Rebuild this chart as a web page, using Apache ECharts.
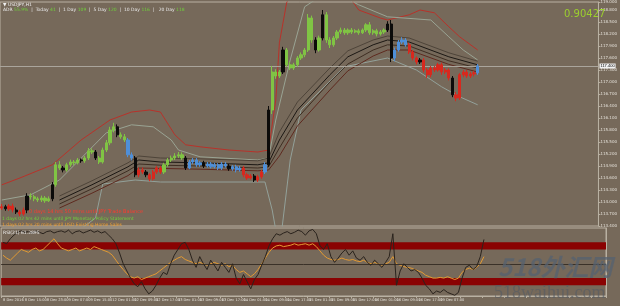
<!DOCTYPE html>
<html><head><meta charset="utf-8">
<script src="https://cdn.jsdelivr.net/npm/echarts@6/dist/echarts.min.js"></script>
<style>html,body{margin:0;padding:0;background:#76695a}#c{width:620px;height:306px}</style>
</head><body><div id="c"></div>
<script>
// ---- data (USDJPY H1) ----
const tickLabels = ["8 Dec 2016","8 Dec 15:00","8 Dec 23:00","9 Dec 07:00","9 Dec 15:00","12 Dec 01:00","12 Dec 09:00","12 Dec 17:00","13 Dec 01:00","13 Dec 09:00","13 Dec 17:00","14 Dec 01:00","14 Dec 09:00","14 Dec 17:00","15 Dec 01:00","15 Dec 09:00","15 Dec 17:00","16 Dec 01:00","16 Dec 09:00","16 Dec 17:00","19 Dec 07:00","19 Dec 15:00"];
const opens = [113.85,113.88,113.83,113.90,113.80,113.75,113.70,113.80,114.15,114.13,114.08,114.05,114.10,114.03,114.08,114.43,114.93,114.85,114.80,114.93,115.00,114.98,115.05,115.03,115.10,115.28,115.25,115.10,115.00,115.30,115.48,115.80,115.88,115.68,115.63,115.55,115.18,115.10,114.68,114.80,114.75,114.68,114.58,114.75,114.85,114.75,114.93,115.05,115.10,115.15,115.18,115.10,114.85,115.00,115.05,114.93,114.98,114.90,114.95,114.88,114.93,114.85,114.95,114.90,114.83,114.88,114.80,114.85,114.68,114.60,114.65,114.55,114.63,114.75,114.93,116.30,117.25,117.15,117.25,117.80,117.43,117.35,117.43,117.60,117.68,117.80,118.60,118.05,117.80,118.10,118.68,118.05,117.93,118.10,118.25,118.30,118.23,118.30,118.25,118.28,118.23,118.30,118.43,118.23,118.28,118.20,118.25,118.30,118.45,117.60,117.80,118.00,118.05,117.93,117.75,117.60,117.50,117.55,117.30,117.18,117.35,117.30,117.43,117.25,117.30,117.10,116.68,116.60,117.18,117.25,117.15,117.20,117.23];
const closes = [113.88,113.83,113.90,113.80,113.75,113.70,113.80,114.15,114.13,114.08,114.05,114.10,114.03,114.08,114.43,114.93,114.85,114.80,114.93,115.00,114.98,115.05,115.03,115.10,115.28,115.25,115.10,115.00,115.30,115.48,115.80,115.88,115.68,115.63,115.55,115.18,115.10,114.68,114.80,114.75,114.68,114.58,114.75,114.85,114.75,114.93,115.05,115.10,115.15,115.18,115.10,114.85,115.00,115.05,114.93,114.98,114.90,114.95,114.88,114.93,114.85,114.95,114.90,114.83,114.88,114.80,114.85,114.68,114.60,114.65,114.55,114.63,114.75,114.93,116.30,117.25,117.15,117.25,117.80,117.43,117.35,117.43,117.60,117.68,117.80,118.60,118.05,117.80,118.10,118.68,118.05,117.93,118.10,118.25,118.30,118.23,118.30,118.25,118.28,118.23,118.30,118.43,118.23,118.28,118.20,118.25,118.30,118.45,117.60,117.80,118.00,118.05,117.93,117.75,117.60,117.50,117.55,117.30,117.18,117.35,117.30,117.43,117.25,117.30,117.10,116.68,116.60,117.18,117.25,117.15,117.20,117.23,117.40];
const highs = [113.95,113.93,113.95,113.96,113.86,113.80,113.86,114.22,114.22,114.18,114.13,114.16,114.15,114.14,114.50,115.00,115.02,114.90,114.98,115.06,115.05,115.10,115.09,115.15,115.35,115.34,115.30,115.15,115.36,115.55,115.88,115.98,115.94,115.74,115.70,115.60,115.24,115.15,114.86,114.86,114.80,114.72,114.80,114.90,114.90,114.98,115.10,115.16,115.22,115.25,115.24,115.15,115.05,115.10,115.10,115.02,115.03,115.00,115.00,114.98,114.97,115.00,115.00,114.95,114.92,114.93,114.90,114.90,114.73,114.70,114.70,114.68,114.80,115.00,116.40,117.40,117.32,117.30,117.88,117.85,117.50,117.48,117.65,117.74,117.85,118.70,118.66,118.12,118.16,118.80,118.75,118.12,118.15,118.30,118.36,118.35,118.34,118.35,118.32,118.33,118.34,118.47,118.50,118.32,118.33,118.30,118.34,118.52,118.55,117.86,118.05,118.12,118.10,117.98,117.80,117.64,117.60,117.60,117.35,117.40,117.40,117.48,117.48,117.35,117.34,117.15,116.75,117.22,117.30,117.30,117.25,117.28,117.45];
const lows = [113.80,113.78,113.78,113.74,113.70,113.64,113.66,113.72,114.06,114.02,114.00,114.00,113.98,114.00,114.02,114.38,114.80,114.74,114.76,114.88,114.92,114.94,114.98,114.98,115.05,115.20,115.05,114.95,114.96,115.25,115.42,115.74,115.62,115.58,115.50,115.12,115.04,114.62,114.62,114.70,114.62,114.52,114.54,114.70,114.70,114.70,114.88,115.00,115.05,115.10,115.05,114.80,114.82,114.95,114.88,114.88,114.85,114.86,114.84,114.84,114.80,114.80,114.86,114.78,114.78,114.74,114.76,114.62,114.55,114.56,114.50,114.50,114.58,114.70,114.88,116.20,117.08,117.10,117.20,117.38,117.30,117.30,117.38,117.55,117.62,117.75,117.98,117.72,117.76,118.04,117.98,117.85,117.88,118.05,118.20,118.18,118.18,118.20,118.22,118.18,118.20,118.25,118.18,118.18,118.14,118.16,118.20,118.25,117.50,117.52,117.76,117.95,117.88,117.70,117.54,117.44,117.45,117.24,117.10,117.12,117.25,117.26,117.18,117.20,117.04,116.62,116.52,116.55,117.12,117.10,117.10,117.14,117.18];
const barStates = "rkrrkrrkggggggkggkggggkgggkgggggkggbbkrrkrrrrggggggkbbbbkbbbbbbkbbbrrrkrrbkgggkggggggggkgkgggggggggggggggggkkbbbbrrrkrrrrrrrrkrrrrrrb";
// bands and moving averages: [bar index, price]
const redUpper = [[0,114.43],[5,114.60],[14,114.93],[22,115.55],[30,116.05],[36,116.25],[41,116.30],[44,116.25],[48,115.68],[51,115.43],[55,115.38],[63,115.30],[71,115.25],[74,115.30],[76,116.55],[77,117.98],[79,118.98],[82,119.55],[96,119.18],[99,118.80],[105,118.60],[107,118.55],[113,118.68],[116,118.80],[120,118.73],[124,118.38],[127,118.13],[132,117.80]];
const grayUpper = [[0,114.05],[8,114.18],[16,114.55],[29,115.73],[36,115.93],[42,115.88],[47,115.55],[49,115.30],[55,115.13],[71,115.05],[74,115.10],[76,116.05],[80,117.55],[84,118.88],[91,119.30],[99,118.93],[107,118.63],[119,118.55],[124,118.13],[128,117.80],[132,117.55]];
const grayLower = [[0,113.00],[20,113.20],[26,113.60],[28,114.45],[37,114.55],[44,114.50],[73,114.50],[75,113.80],[77,112.80],[80,115.05],[83,116.30],[95,117.38],[107,117.60],[115,117.30],[122,116.88],[127,116.63],[132,116.43]];
const maA = [[16,114.15],[25,114.53],[35,114.98],[38,115.15],[44,115.10],[55,115.08],[71,115.03],[74,115.10],[77,115.75],[82,116.50],[91,117.35],[96,117.78],[103,118.05],[107,118.15],[113,118.10],[124,117.73],[132,117.52]];
const maB = [[16,114.05],[25,114.43],[35,114.88],[38,115.05],[44,115.00],[55,114.98],[71,114.93],[74,114.98],[77,115.55],[82,116.30],[91,117.18],[96,117.63],[103,117.93],[107,118.05],[113,118.00],[124,117.63],[132,117.43]];
const maC = [[16,113.95],[25,114.33],[35,114.78],[38,114.95],[44,114.92],[55,114.90],[71,114.85],[74,114.88],[77,115.35],[82,116.10],[91,117.00],[96,117.45],[103,117.80],[107,117.93],[113,117.90],[124,117.53],[132,117.35]];
const maD = [[16,113.85],[25,114.22],[35,114.66],[38,114.85],[44,114.84],[55,114.82],[71,114.78],[74,114.80],[77,115.15],[82,115.90],[91,116.80],[96,117.28],[103,117.65],[107,117.80],[113,117.80],[124,117.44],[132,117.25]];
const rsiFast = [80,78,85,90,94,96,94,95,93,96,94,92,95,96,93,95,96,94,97,92,95,96,93,95,97,94,96,93,95,90,85,78,65,50,40,30,22,18,25,15,8,12,20,30,38,35,50,62,70,78,80,70,55,45,60,50,42,55,48,40,52,45,38,50,30,22,35,25,15,28,35,48,60,75,85,92,90,93,95,92,94,97,95,90,96,98,92,75,70,78,60,52,58,65,70,62,68,58,55,60,52,48,55,50,45,52,60,92,20,40,50,45,40,42,38,30,20,15,8,12,10,14,10,8,6,10,30,45,48,42,46,60,84];
const rsiSlow = [62,58,55,60,65,70,68,66,70,72,68,70,75,80,85,78,72,70,68,70,72,68,70,72,70,74,72,70,68,66,62,55,48,42,36,32,30,32,28,30,32,34,36,40,44,48,52,55,58,60,56,54,52,50,52,50,48,50,52,50,48,50,46,48,42,38,40,36,32,36,42,50,58,66,72,75,76,74,75,76,78,76,77,78,76,78,74,68,62,58,56,55,56,58,56,55,56,54,53,55,52,50,52,50,48,50,52,60,50,48,46,45,44,42,40,38,34,32,30,30,31,30,32,30,28,30,38,42,44,42,45,50,60];
const lastPrice = 117.40;
const totalSlots = 166;

// ---- build ----
const cats = [];
for (let i = 0; i < totalSlots; i++) cats.push(String(i));
const colorMap = {g:'#80c444', r:'#d8281e', b:'#4f8fd8', k:'#0c0b0a'};
const candleData = closes.map((c, i) => {
  const col = colorMap[barStates[i]];
  return {value:[opens[i], c, lows[i], highs[i]], itemStyle:{color:col,color0:col,borderColor:col,borderColor0:col}};
});
function line(data, color, z, width) {
  return {type:'line', data:data, xAxisIndex:0, yAxisIndex:0, symbol:'none', silent:true,
    lineStyle:{color:color, width:width||1}, z:z, clip:true, animation:false};
}
const axisCol = '#b9b1a2';
const chart = echarts.init(document.getElementById('c'));
chart.setOption({
  animation:false,
  backgroundColor:'#76695a',
  grid:[
    {left:0, right:14, top:2, height:224, show:true, borderColor:axisCol, borderWidth:1},
    {left:0, right:14, top:228, height:68, show:true, borderColor:axisCol, borderWidth:1}
  ],
  xAxis:[
    {type:'category', gridIndex:0, data:cats, boundaryGap:true, axisLine:{show:false}, axisTick:{show:false}, axisLabel:{show:false}},
    {type:'category', gridIndex:1, data:cats, boundaryGap:true, axisLine:{show:true, lineStyle:{color:axisCol}},
      axisTick:{show:true, length:2, interval:(i)=> i%6===0, lineStyle:{color:axisCol}},
      axisLabel:{show:true, fontSize:3.6, color:'#e4e0d8', margin:2, align:'left', fontFamily:'DejaVu Sans',
        interval:(i)=> i%6===0 && (i/6) < tickLabels.length,
        formatter:(v, i)=> tickLabels[Math.round(i/6)] || ''}}
  ],
  yAxis:[
    {type:'value', gridIndex:0, position:'right', min:113.4, max:119.0, interval:0.3,
      axisLine:{show:true, lineStyle:{color:axisCol}}, axisTick:{show:true, length:2, lineStyle:{color:axisCol}},
      splitLine:{show:false},
      axisLabel:{fontSize:4, color:'#e4e0d8', margin:2, fontFamily:'DejaVu Sans', formatter:(v)=> v.toFixed(3)}},
    {type:'value', gridIndex:1, position:'right', min:5, max:100,
      axisLine:{show:true, lineStyle:{color:axisCol}}, axisTick:{show:false}, splitLine:{show:false},
      axisLabel:{show:false}}
  ],
  series:[
    line(redUpper, '#b8322a', 3),
    line(grayUpper, '#9aa494', 3),
    line(grayLower, '#93a19a', 3),
    line(maD, '#5e2a1f', 4),
    line(maC, '#3e2e22', 4),
    line(maB, '#1c1814', 4),
    line(maA, '#4e4439', 4),
    {type:'candlestick', xAxisIndex:0, yAxisIndex:0, data:candleData, barWidth:'75%', z:5,
      markLine:{silent:true, symbol:'none', animation:false,
        lineStyle:{color:'#aaa59c', width:1, type:'solid'},
        label:{show:true, position:'end', formatter:lastPrice.toFixed(3), fontSize:4, color:'#000',
          backgroundColor:'#f2f2f2', padding:[1,1,0,1], distance:1},
        data:[{yAxis:lastPrice}]}},
    {type:'line', xAxisIndex:1, yAxisIndex:1, data:rsiSlow, symbol:'none', lineStyle:{color:'#e39a32', width:1}, z:4,
      markArea:{silent:true, itemStyle:{color:'#8a0202'}, data:[[{yAxis:70},{yAxis:80}],[{yAxis:20},{yAxis:30}]]},
      markLine:{silent:true, symbol:'none', lineStyle:{color:'#3a3128', width:1, type:'solid'}, label:{show:false}, data:[{yAxis:50}]}},
    {type:'line', xAxisIndex:1, yAxisIndex:1, data:rsiFast, symbol:'none', lineStyle:{color:'#2a231d', width:1}, z:5}
  ],
  graphic:[
    {type:'text', left:3, top:2, z:100, style:{text:'▼ USDJPY,H1', fontSize:4.5, fill:'#f0f0f0', fontFamily:'DejaVu Sans'}},
    {type:'text', left:3, top:7, z:100, style:{text:'ADR {g|55.9%}  |  Today {g|41}  |  1 Day {g|109}  |  5 Day {g|120}  |  10 Day {g|116}  |   20 Day {g|118}',
      fontSize:4.5, fill:'#e8e8e8', fontFamily:'DejaVu Sans', rich:{g:{fill:'#6fd23a', fontSize:4.5, fontFamily:'DejaVu Sans'}}}},
    {type:'text', left:564, top:9, z:100, style:{text:'0.90427', fontSize:10, fill:'#9ccf2e', fontFamily:'DejaVu Sans'}},
    {type:'text', left:29, top:209, z:100, style:{text:'0 days 14 hrs 50 mins until JPY Trade Balance', fontSize:5, fill:'#ff3a2e', fontFamily:'DejaVu Sans'}},
    {type:'text', left:2, top:216, z:100, style:{text:'1 days 02 hrs 42 mins until JPY Monetary Policy Statement', fontSize:4.5, fill:'#6fd23a', fontFamily:'DejaVu Sans'}},
    {type:'text', left:2, top:222, z:100, style:{text:'1 days 02 hrs 20 mins until USD Existing Home Sales', fontSize:4.5, fill:'#f0a030', fontFamily:'DejaVu Sans'}},
    {type:'text', left:3, top:230, z:100, style:{text:'RSI(21) 61.2895', fontSize:4.5, fill:'#f0f0f0', fontFamily:'DejaVu Sans'}},
    {type:'text', left:498, top:255, z:100, style:{text:'518外汇网', fontSize:24, fontStyle:'italic', fontWeight:'bold', fill:'rgba(86,98,112,0.75)', fontFamily:'Noto Sans CJK SC'}},
    {type:'text', left:494, top:284, z:100, style:{text:'518waihui.com', fontSize:18, fill:'rgba(86,92,100,0.65)', fontFamily:'Liberation Serif'}}
  ]
});
</script>
</body></html>
